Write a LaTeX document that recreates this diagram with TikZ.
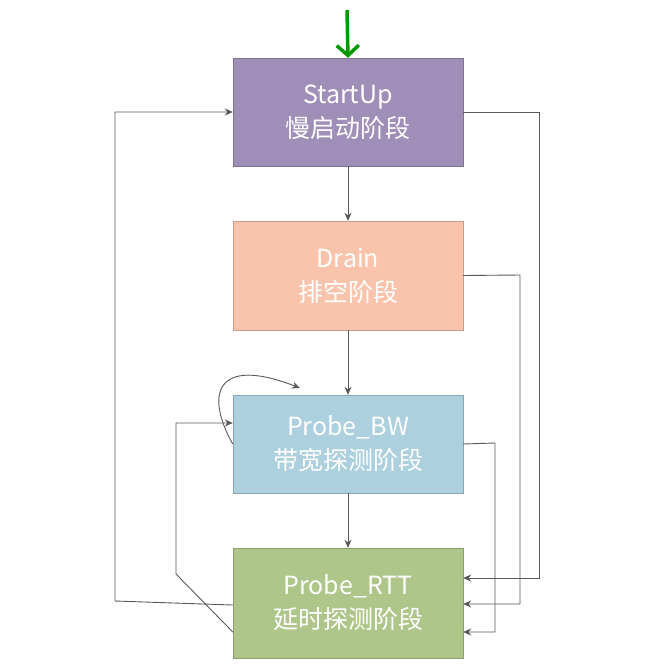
\documentclass[tikz,border=0pt]{standalone}
\usepackage{fontspec}
\setmainfont{Noto Sans CJK SC}
\usetikzlibrary{arrows.meta}
\definecolor{cS}{HTML}{9F8FB8}
\definecolor{cD}{HTML}{F9C4AB}
\definecolor{cB}{HTML}{ADD0DE}
\definecolor{cR}{HTML}{AFC68A}
\definecolor{ln}{HTML}{595959}
\begin{document}
\begin{tikzpicture}[x=1pt,y=-1pt,
  box/.style={draw=#1!80!black,fill=#1,minimum width=230pt,text=white,align=center,
    font=\fontsize{25}{34}\selectfont,inner sep=0pt},
  arr/.style={draw=ln,line width=0.9pt,-{Stealth[length=8pt,width=7pt]}}]
\useasboundingbox (0,0) rectangle (670,672);
\fill[white] (0,0) rectangle (670,672);
\node[box=cS,minimum height=108pt] (s) at (348,112) {StartUp\\慢启动阶段};
\node[box=cD,minimum height=109pt] (d) at (348,275.5) {Drain\\排空阶段};
\node[box=cB,minimum height=98pt] (b) at (348,444) {Probe\_BW\\带宽探测阶段};
\node[box=cR,minimum height=110pt] (r) at (348,603) {Probe\_RTT\\延时探测阶段};
\coordinate (top) at (347,10);
\draw[draw=green!60!black,line width=3.5pt,-{Straight Barb[length=10pt,width=22pt]}] (top) -- (s.north);
\draw[arr] (s) -- (d);
\draw[arr] (d) -- (b);
\draw[arr] (b) -- (r);
\draw[arr] (s.east) -- (539,112) |- ([yshift=25pt]r.east);
\draw[arr] (d.east) -- (520,275) |- ([yshift=-1pt]r.east);
\draw[arr] (b.east) -- (495,443) |- ([yshift=-29pt]r.east);
\draw[arr] ([yshift=-29pt]r.west) -- (176,574) |- ([yshift=21pt]b.west);
\draw[arr] ([yshift=-2pt]r.west) -- (115,601) |- (s.west);
\draw[arr] ([yshift=0pt]b.west) .. controls (205,395) and (215,355) .. (300,388);
\end{tikzpicture}
\end{document}
